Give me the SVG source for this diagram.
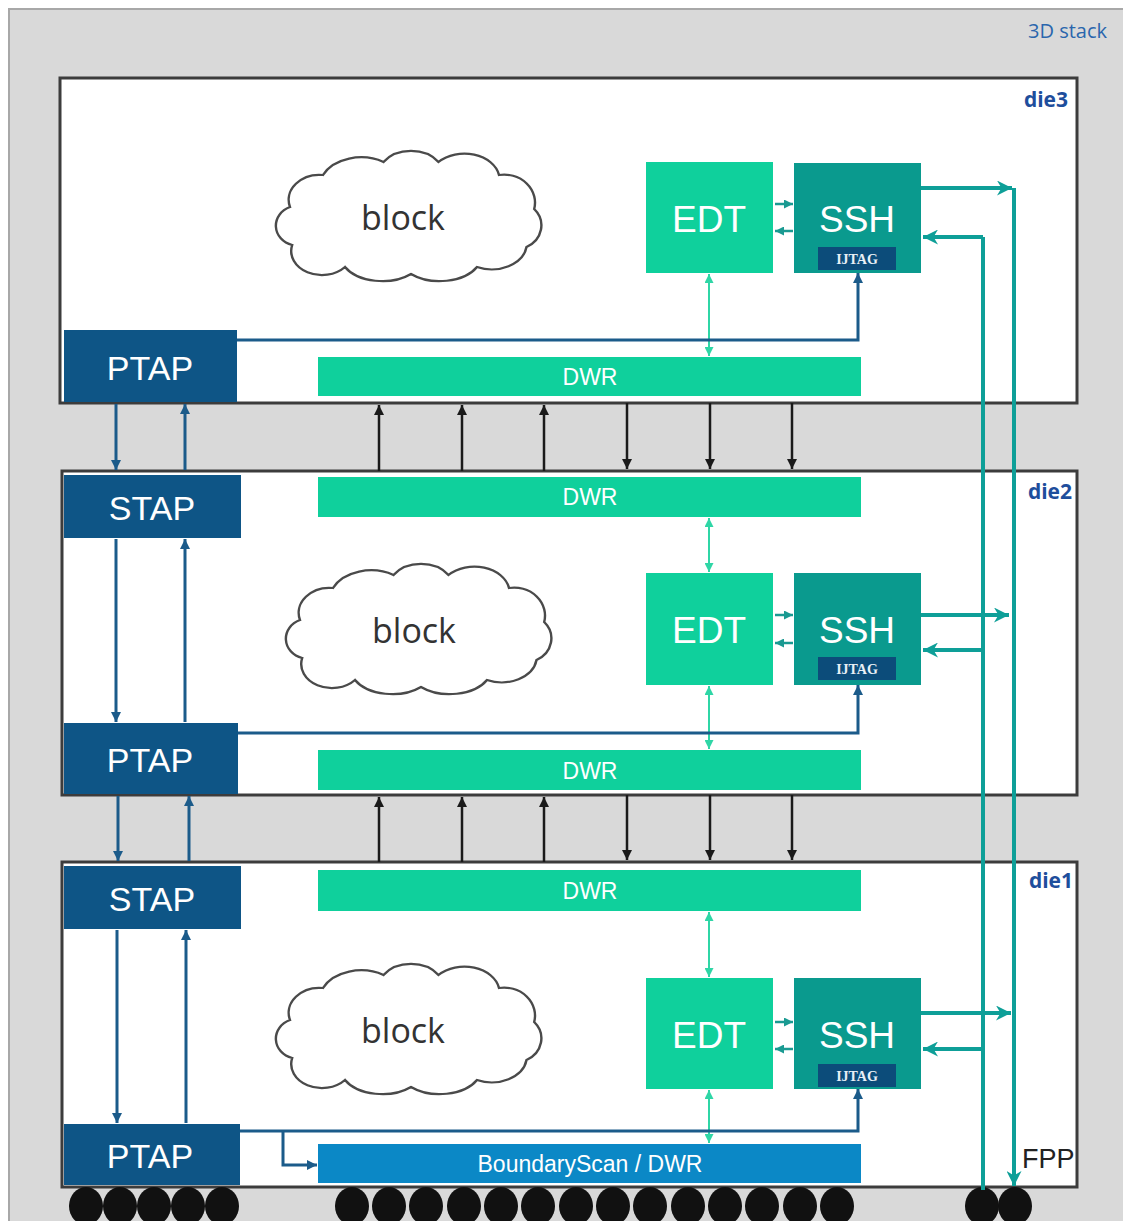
<svg xmlns="http://www.w3.org/2000/svg" width="1123" height="1221" viewBox="0 0 1123 1221">
<style>
.die{fill:#ffffff;stroke:#3c3c3c;stroke-width:3}
.tap{fill:#0e5586}
.edt{fill:#0fd09c}
.ssh{fill:#0a9a8e}
.ijtag{fill:#0c4c7a}
.bs{fill:#0b88c6}
.t{font-family:"Liberation Sans",Arial,sans-serif;fill:#ffffff;text-anchor:middle}
.big{font-size:37px}
.tapt{font-size:34px}
.dwrt{font-size:23px}
.ij{font-family:"Liberation Serif","Times New Roman",serif;font-weight:bold;font-size:14px;fill:#e8f0f6;text-anchor:middle}
.lbl{font-family:"Open Sans","DejaVu Sans",sans-serif;font-weight:bold;font-size:21px;fill:#1e4e9c;text-anchor:end}
.cloud{fill:#ffffff;stroke:#4a4a4a;stroke-width:2.2}
.blk{font-family:"Open Sans","Liberation Sans",sans-serif;font-size:34px;fill:#333333;text-anchor:middle}
.teal{stroke:#0e9f98;stroke-width:4;fill:none}
.blue{stroke:#1b5b8a;stroke-width:3;fill:none}
.green{stroke:#2fd6a6;stroke-width:2;fill:none}
.blk2{stroke:#1a1a1a;stroke-width:2.5;fill:none}
.small{stroke:#1a9a92;stroke-width:2.5;fill:none}
.pin{fill:#111111}
</style>
<defs>
<marker id="mTeal" viewBox="0 0 10 10" refX="10" refY="5" markerUnits="userSpaceOnUse" markerWidth="16" markerHeight="15" orient="auto-start-reverse"><path d="M0,0 L10,5 L0,10 L3,5 Z" fill="#0e9f98"/></marker>
<marker id="mBlue" viewBox="0 0 10 10" refX="10" refY="5" markerUnits="userSpaceOnUse" markerWidth="10" markerHeight="10" orient="auto-start-reverse"><path d="M0,0 L10,5 L0,10 Z" fill="#1b5b8a"/></marker>
<marker id="mGreen" viewBox="0 0 10 10" refX="10" refY="5" markerUnits="userSpaceOnUse" markerWidth="9" markerHeight="9" orient="auto-start-reverse"><path d="M0,0 L10,5 L0,10 Z" fill="#2fd6a6"/></marker>
<marker id="mBlack" viewBox="0 0 10 10" refX="10" refY="5" markerUnits="userSpaceOnUse" markerWidth="10" markerHeight="10" orient="auto-start-reverse"><path d="M0,0 L10,5 L0,10 Z" fill="#1a1a1a"/></marker>
<marker id="mSmall" viewBox="0 0 10 10" refX="10" refY="5" markerUnits="userSpaceOnUse" markerWidth="9" markerHeight="9" orient="auto-start-reverse"><path d="M0,0 L10,5 L0,10 Z" fill="#1a9a92"/></marker>
<path id="cloudShape" d="M-110,-10 A28 25 0 0 1 -80,-42 A38 30 0 0 1 -25,-55 A30 25 0 0 1 25,-55 A32 26 0 0 1 80,-42 A28 28 0 0 1 112,-8 A24 24 0 0 1 105,30 A32 26 0 0 1 60,50 A38 26 0 0 1 0,57 A38 26 0 0 1 -60,50 A28 24 0 0 1 -108,28 A20 20 0 0 1 -110,-10 Z"/>
</defs>

<rect x="0" y="0" width="1123" height="1221" fill="#ffffff"/>
<g id="stack">
<rect x="9" y="9" width="1130" height="1230" fill="#d9d9d9" stroke="#a8a8a8" stroke-width="2"/>
<text class="lbl" x="1107" y="38" style="font-weight:normal;font-size:20px;fill:#2a66ad">3D stack</text>
</g>

<!-- die3 -->
<g id="die3">
<rect class="die" x="60" y="78" width="1017" height="325"/>
<text class="lbl" x="1068" y="107">die3</text>
</g>
<g id="die3-block">
<use href="#cloudShape" class="cloud" transform="translate(411,217) scale(1.1,1)"/>
<text class="blk" x="403" y="230">block</text>
</g>
<g id="die3-edt"><rect class="edt" x="646" y="162" width="127" height="111"/><text class="t big" x="709" y="232">EDT</text></g>
<g id="die3-ssh"><rect class="ssh" x="794" y="163" width="127" height="110"/><text class="t big" x="857" y="232">SSH</text>
<rect class="ijtag" x="818" y="247" width="78" height="23"/><text class="ij" x="857" y="264">IJTAG</text></g>
<g id="die3-ptap"><rect class="tap" x="64" y="330" width="173" height="72"/><text class="t tapt" x="150" y="380">PTAP</text></g>
<g id="die3-dwr"><rect class="edt" x="318" y="357" width="543" height="39"/><text class="t dwrt" x="590" y="385">DWR</text></g>

<!-- die2 -->
<g id="die2">
<rect class="die" x="62" y="471" width="1015" height="324"/>
<text class="lbl" x="1072" y="499">die2</text>
</g>
<g id="die2-stap"><rect class="tap" x="64" y="475" width="177" height="63"/><text class="t tapt" x="152" y="520">STAP</text></g>
<g id="die2-dwr-top"><rect class="edt" x="318" y="477" width="543" height="40"/><text class="t dwrt" x="590" y="505">DWR</text></g>
<g id="die2-block">
<use href="#cloudShape" class="cloud" transform="translate(421,630) scale(1.1,1)"/>
<text class="blk" x="414" y="643">block</text>
</g>
<g id="die2-edt"><rect class="edt" x="646" y="573" width="127" height="112"/><text class="t big" x="709" y="643">EDT</text></g>
<g id="die2-ssh"><rect class="ssh" x="794" y="573" width="127" height="112"/><text class="t big" x="857" y="643">SSH</text>
<rect class="ijtag" x="818" y="657" width="78" height="23"/><text class="ij" x="857" y="674">IJTAG</text></g>
<g id="die2-ptap"><rect class="tap" x="64" y="723" width="174" height="71"/><text class="t tapt" x="150" y="772">PTAP</text></g>
<g id="die2-dwr-bottom"><rect class="edt" x="318" y="750" width="543" height="40"/><text class="t dwrt" x="590" y="779">DWR</text></g>

<!-- die1 -->
<g id="die1">
<rect class="die" x="62" y="862" width="1015" height="325"/>
<text class="lbl" x="1073" y="888">die1</text>
<text x="1022" y="1168" style="font-family:'Liberation Sans',Arial,sans-serif;font-size:27px;fill:#222">FPP</text>
</g>
<g id="die1-stap"><rect class="tap" x="64" y="866" width="177" height="63"/><text class="t tapt" x="152" y="911">STAP</text></g>
<g id="die1-dwr"><rect class="edt" x="318" y="870" width="543" height="41"/><text class="t dwrt" x="590" y="899">DWR</text></g>
<g id="die1-block">
<use href="#cloudShape" class="cloud" transform="translate(411,1030) scale(1.1,1)"/>
<text class="blk" x="403" y="1043">block</text>
</g>
<g id="die1-edt"><rect class="edt" x="646" y="978" width="127" height="111"/><text class="t big" x="709" y="1048">EDT</text></g>
<g id="die1-ssh"><rect class="ssh" x="794" y="978" width="127" height="111"/><text class="t big" x="857" y="1048">SSH</text>
<rect class="ijtag" x="818" y="1064" width="78" height="23"/><text class="ij" x="857" y="1081">IJTAG</text></g>
<g id="die1-ptap"><rect class="tap" x="64" y="1124" width="176" height="61"/><text class="t tapt" x="150" y="1168">PTAP</text></g>
<g id="die1-bs"><rect class="bs" x="318" y="1144" width="543" height="39"/><text class="t dwrt" x="590" y="1172">BoundaryScan / DWR</text></g>

<!-- pins -->
<g id="pins">
<ellipse class="pin" cx="86" cy="1206" rx="17" ry="19"/>
<ellipse class="pin" cx="120" cy="1206" rx="17" ry="19"/>
<ellipse class="pin" cx="154" cy="1206" rx="17" ry="19"/>
<ellipse class="pin" cx="188" cy="1206" rx="17" ry="19"/>
<ellipse class="pin" cx="222" cy="1206" rx="17" ry="19"/>
<ellipse class="pin" cx="352" cy="1206" rx="17" ry="19"/>
<ellipse class="pin" cx="389" cy="1206" rx="17" ry="19"/>
<ellipse class="pin" cx="426" cy="1206" rx="17" ry="19"/>
<ellipse class="pin" cx="464" cy="1206" rx="17" ry="19"/>
<ellipse class="pin" cx="501" cy="1206" rx="17" ry="19"/>
<ellipse class="pin" cx="538" cy="1206" rx="17" ry="19"/>
<ellipse class="pin" cx="576" cy="1206" rx="17" ry="19"/>
<ellipse class="pin" cx="613" cy="1206" rx="17" ry="19"/>
<ellipse class="pin" cx="650" cy="1206" rx="17" ry="19"/>
<ellipse class="pin" cx="688" cy="1206" rx="17" ry="19"/>
<ellipse class="pin" cx="725" cy="1206" rx="17" ry="19"/>
<ellipse class="pin" cx="762" cy="1206" rx="17" ry="19"/>
<ellipse class="pin" cx="800" cy="1206" rx="17" ry="19"/>
<ellipse class="pin" cx="837" cy="1206" rx="17" ry="19"/>
<ellipse class="pin" cx="982" cy="1206" rx="17" ry="19"/>
<ellipse class="pin" cx="1015" cy="1206" rx="17" ry="19"/>
</g>

<g id="connectors">
<!-- FPP long lines -->
<path class="teal" d="M1014,188 V1186" marker-end="url(#mTeal)"/>
<path class="teal" d="M983,237 V1190"/>
<path class="teal" d="M921,188 H1012" marker-end="url(#mTeal)"/>
<path class="teal" d="M983,237 H923" marker-end="url(#mTeal)"/>
<path class="teal" d="M921,615 H1009" marker-end="url(#mTeal)"/>
<path class="teal" d="M983,650 H923" marker-end="url(#mTeal)"/>
<path class="teal" d="M921,1013 H1011" marker-end="url(#mTeal)"/>
<path class="teal" d="M983,1049 H923" marker-end="url(#mTeal)"/>
<!-- EDT <-> SSH -->
<path class="small" d="M775,204 H793" marker-end="url(#mSmall)"/>
<path class="small" d="M793,231 H775" marker-end="url(#mSmall)"/>
<path class="small" d="M775,615 H793" marker-end="url(#mSmall)"/>
<path class="small" d="M793,643 H775" marker-end="url(#mSmall)"/>
<path class="small" d="M775,1022 H793" marker-end="url(#mSmall)"/>
<path class="small" d="M793,1049 H775" marker-end="url(#mSmall)"/>
<!-- EDT <-> DWR -->
<path class="green" d="M709,274 V356" marker-start="url(#mGreen)" marker-end="url(#mGreen)"/>
<path class="green" d="M709,518 V572" marker-start="url(#mGreen)" marker-end="url(#mGreen)"/>
<path class="green" d="M709,686 V749" marker-start="url(#mGreen)" marker-end="url(#mGreen)"/>
<path class="green" d="M709,912 V977" marker-start="url(#mGreen)" marker-end="url(#mGreen)"/>
<path class="green" d="M709,1090 V1143" marker-start="url(#mGreen)" marker-end="url(#mGreen)"/>
<!-- PTAP -> IJTAG -->
<path class="blue" d="M237,340 H858 V273" marker-end="url(#mBlue)"/>
<path class="blue" d="M238,733 H858 V685" marker-end="url(#mBlue)"/>
<path class="blue" d="M240,1131 H858 V1089" marker-end="url(#mBlue)"/>
<path class="blue" d="M283,1131 V1165 H317" marker-end="url(#mBlue)"/>
<!-- TAP chain -->
<path class="blue" d="M116,404 V470" marker-end="url(#mBlue)"/>
<path class="blue" d="M185,470 V404" marker-end="url(#mBlue)"/>
<path class="blue" d="M116,539 V722" marker-end="url(#mBlue)"/>
<path class="blue" d="M185,722 V539" marker-end="url(#mBlue)"/>
<path class="blue" d="M118,796 V861" marker-end="url(#mBlue)"/>
<path class="blue" d="M189,861 V796" marker-end="url(#mBlue)"/>
<path class="blue" d="M117,930 V1123" marker-end="url(#mBlue)"/>
<path class="blue" d="M186,1123 V930" marker-end="url(#mBlue)"/>
<!-- die-to-die -->
<path class="blk2" d="M379,471 V405" marker-end="url(#mBlack)"/>
<path class="blk2" d="M462,471 V405" marker-end="url(#mBlack)"/>
<path class="blk2" d="M544,471 V405" marker-end="url(#mBlack)"/>
<path class="blk2" d="M627,403 V469" marker-end="url(#mBlack)"/>
<path class="blk2" d="M710,403 V469" marker-end="url(#mBlack)"/>
<path class="blk2" d="M792,403 V469" marker-end="url(#mBlack)"/>
<path class="blk2" d="M379,862 V797" marker-end="url(#mBlack)"/>
<path class="blk2" d="M462,862 V797" marker-end="url(#mBlack)"/>
<path class="blk2" d="M544,862 V797" marker-end="url(#mBlack)"/>
<path class="blk2" d="M627,795 V860" marker-end="url(#mBlack)"/>
<path class="blk2" d="M710,795 V860" marker-end="url(#mBlack)"/>
<path class="blk2" d="M792,795 V860" marker-end="url(#mBlack)"/>
</g>
</svg>
